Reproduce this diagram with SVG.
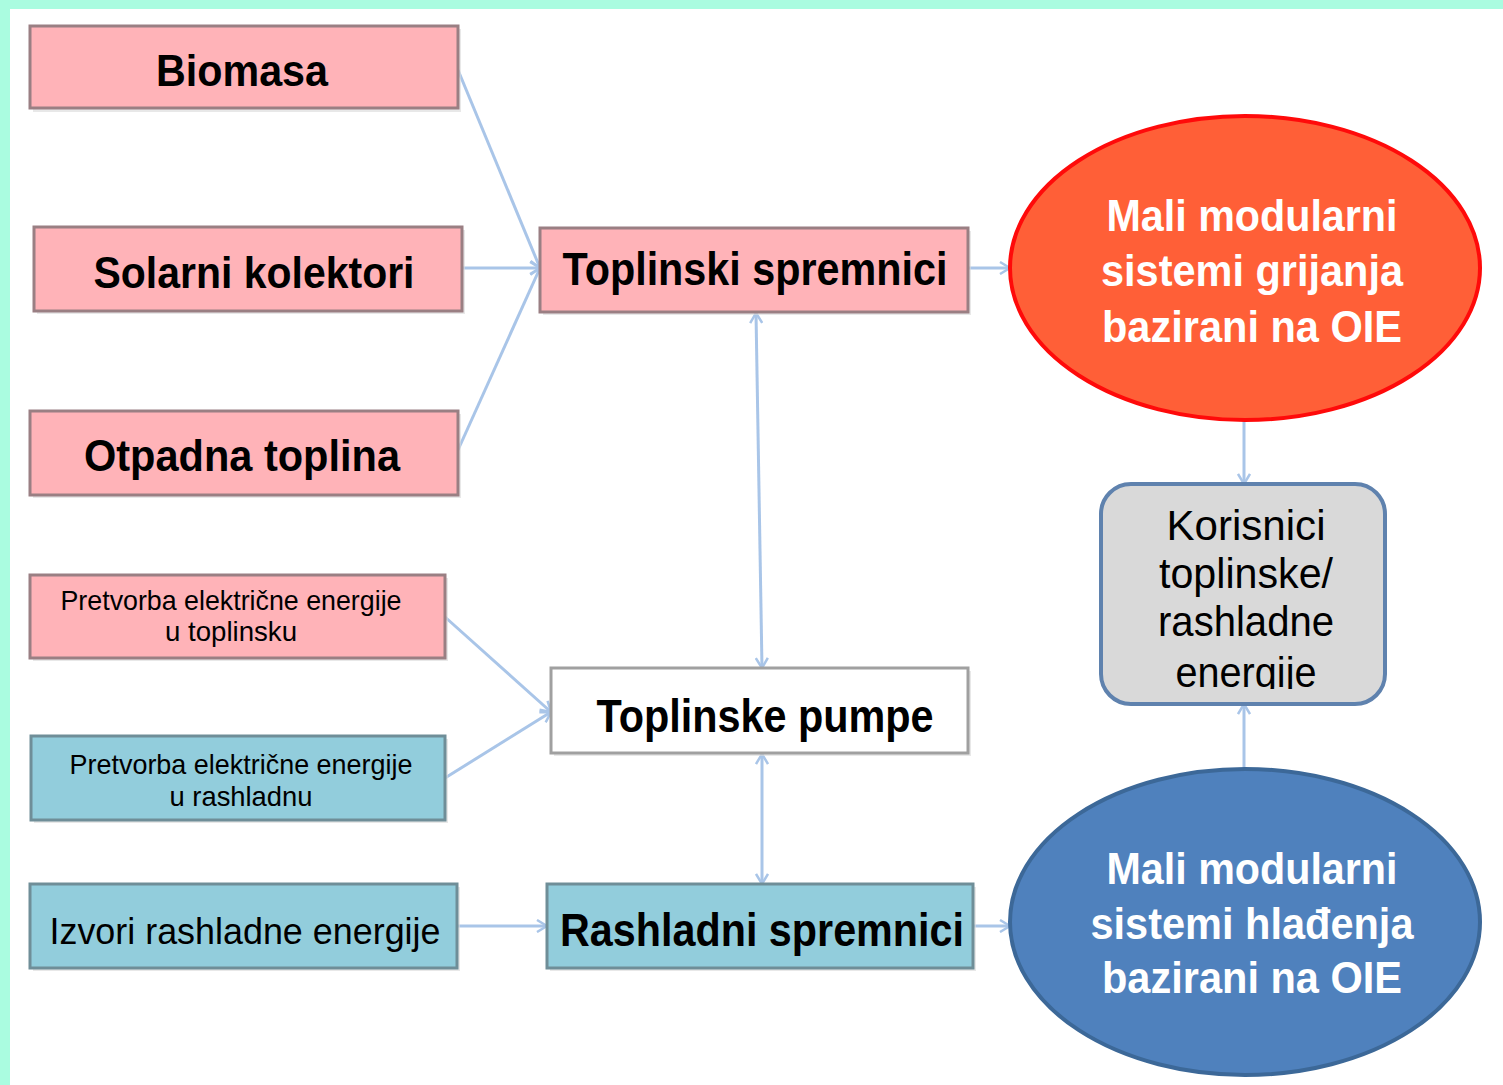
<svg xmlns="http://www.w3.org/2000/svg" width="1503" height="1085" viewBox="0 0 1503 1085">
<defs>
<style>
.pink{fill:#FFB3B8;stroke:#9A7F83;stroke-width:3}
.blue{fill:#92CDDC;stroke:#6F8E98;stroke-width:3}
.white{fill:#FFFFFF;stroke:#A0A0A0;stroke-width:3}
.sh{fill:#D8D8D8;opacity:0.6}
.t{font-family:"Liberation Sans",Arial,sans-serif;font-weight:bold;fill:#000;text-anchor:middle}
.n{font-family:"Liberation Sans",Arial,sans-serif;fill:#000;text-anchor:middle}
.w{font-family:"Liberation Sans",Arial,sans-serif;font-weight:bold;fill:#FFFFFF;text-anchor:middle}
.c{fill:none;stroke:#A9C5E8;stroke-width:3}
</style>
<marker id="ah" viewBox="0 0 14 14" refX="13" refY="7" markerWidth="14" markerHeight="14" markerUnits="userSpaceOnUse" orient="auto-start-reverse">
<polyline points="3,1 13,7 3,13" fill="none" stroke="#A9C5E8" stroke-width="2.5"/>
</marker>
<clipPath id="kc"><rect x="1103" y="486" width="280" height="203"/></clipPath>
</defs>
<rect x="0" y="0" width="1503" height="1085" fill="#AAFCE0"/>
<rect x="10" y="9" width="1493" height="1076" fill="#FFFFFF"/>

<g id="connectors">
<line class="c" x1="458" y1="70" x2="540" y2="268" marker-end="url(#ah)"/>
<line class="c" x1="462" y1="268" x2="540" y2="268" marker-end="url(#ah)"/>
<line class="c" x1="458" y1="450" x2="540" y2="268" marker-end="url(#ah)"/>
<line class="c" x1="968" y1="268" x2="1010" y2="268" marker-end="url(#ah)"/>
<line class="c" x1="756" y1="313" x2="762" y2="668" marker-start="url(#ah)" marker-end="url(#ah)"/>
<line class="c" x1="762" y1="754" x2="762" y2="884" marker-start="url(#ah)" marker-end="url(#ah)"/>
<line class="c" x1="445" y1="617" x2="551" y2="712" marker-end="url(#ah)"/>
<line class="c" x1="445" y1="778" x2="551" y2="712" marker-end="url(#ah)"/>
<line class="c" x1="457" y1="926" x2="547" y2="926" marker-end="url(#ah)"/>
<line class="c" x1="973" y1="926" x2="1010" y2="926" marker-end="url(#ah)"/>
<line class="c" x1="1244" y1="421" x2="1244" y2="484" marker-end="url(#ah)"/>
<line class="c" x1="1244" y1="769" x2="1244" y2="704" marker-end="url(#ah)"/>
</g>

<g id="biomasa">
<rect class="sh" x="33" y="29" width="428" height="83"/>
<rect class="pink" x="30" y="26" width="428" height="82"/>
<text class="t" x="242" y="86" font-size="44" textLength="172" lengthAdjust="spacingAndGlyphs">Biomasa</text>
</g>
<g id="solarni">
<rect class="sh" x="37" y="230" width="428" height="84"/>
<rect class="pink" x="34" y="227" width="428" height="84"/>
<text class="t" x="254" y="288" font-size="44" textLength="321" lengthAdjust="spacingAndGlyphs">Solarni kolektori</text>
</g>
<g id="otpadna">
<rect class="sh" x="33" y="414" width="428" height="84"/>
<rect class="pink" x="30" y="411" width="428" height="84"/>
<text class="t" x="242" y="471" font-size="44" textLength="316" lengthAdjust="spacingAndGlyphs">Otpadna toplina</text>
</g>
<g id="pretvorba-toplinsku">
<rect class="sh" x="33" y="578" width="415" height="83"/>
<rect class="pink" x="30" y="575" width="415" height="83"/>
<text class="n" x="231" y="610" font-size="28" textLength="341" lengthAdjust="spacingAndGlyphs">Pretvorba električne energije</text>
<text class="n" x="231" y="641" font-size="28" textLength="132" lengthAdjust="spacingAndGlyphs">u toplinsku</text>
</g>
<g id="pretvorba-rashladnu">
<rect class="sh" x="34" y="739" width="414" height="84"/>
<rect class="blue" x="31" y="736" width="414" height="84"/>
<text class="n" x="241" y="774" font-size="28" textLength="343" lengthAdjust="spacingAndGlyphs">Pretvorba električne energije</text>
<text class="n" x="241" y="806" font-size="28" textLength="143" lengthAdjust="spacingAndGlyphs">u rashladnu</text>
</g>
<g id="izvori">
<rect class="sh" x="33" y="887" width="427" height="84"/>
<rect class="blue" x="30" y="884" width="427" height="84"/>
<text class="n" x="245" y="944" font-size="37" textLength="391" lengthAdjust="spacingAndGlyphs">Izvori rashladne energije</text>
</g>
<g id="toplinski-spremnici">
<rect class="sh" x="543" y="231" width="428" height="84"/>
<rect class="pink" x="540" y="228" width="428" height="84"/>
<text class="t" x="755" y="285" font-size="46" textLength="385" lengthAdjust="spacingAndGlyphs">Toplinski spremnici</text>
</g>
<g id="toplinske-pumpe">
<rect class="sh" x="554" y="671" width="417" height="85"/>
<rect class="white" x="551" y="668" width="417" height="85"/>
<text class="t" x="765" y="732" font-size="46" textLength="337" lengthAdjust="spacingAndGlyphs">Toplinske pumpe</text>
</g>
<g id="rashladni-spremnici">
<rect class="sh" x="550" y="887" width="426" height="84"/>
<rect class="blue" x="547" y="884" width="426" height="84"/>
<text class="t" x="762" y="946" font-size="46" textLength="404" lengthAdjust="spacingAndGlyphs">Rashladni spremnici</text>
</g>
<g id="grijanje">
<ellipse cx="1245" cy="268" rx="235" ry="152" fill="#FF5F37" stroke="#FF0A0A" stroke-width="4"/>
<text class="w" x="1252" y="231" font-size="44" textLength="291" lengthAdjust="spacingAndGlyphs">Mali modularni</text>
<text class="w" x="1252" y="286" font-size="44" textLength="302" lengthAdjust="spacingAndGlyphs">sistemi grijanja</text>
<text class="w" x="1252" y="342" font-size="44" textLength="300" lengthAdjust="spacingAndGlyphs">bazirani na OIE</text>
</g>
<g id="korisnici">
<rect x="1101" y="484" width="284" height="220" rx="30" ry="30" fill="#D9D9D9" stroke="#5F82AE" stroke-width="4"/>
<g clip-path="url(#kc)">
<text class="n" x="1246" y="540" font-size="42" textLength="159" lengthAdjust="spacingAndGlyphs">Korisnici</text>
<text class="n" x="1246" y="588" font-size="42" textLength="174" lengthAdjust="spacingAndGlyphs">toplinske/</text>
<text class="n" x="1246" y="636" font-size="42" textLength="176" lengthAdjust="spacingAndGlyphs">rashladne</text>
<text class="n" x="1246" y="687" font-size="42" textLength="141" lengthAdjust="spacingAndGlyphs">energije</text>
</g>
</g>
<g id="hladjenje">
<ellipse cx="1245" cy="922" rx="235" ry="153" fill="#4F81BD" stroke="#3C6898" stroke-width="4"/>
<text class="w" x="1252" y="884" font-size="44" textLength="291" lengthAdjust="spacingAndGlyphs">Mali modularni</text>
<text class="w" x="1252" y="939" font-size="44" textLength="323" lengthAdjust="spacingAndGlyphs">sistemi hlađenja</text>
<text class="w" x="1252" y="993" font-size="44" textLength="300" lengthAdjust="spacingAndGlyphs">bazirani na OIE</text>
</g>
</svg>
